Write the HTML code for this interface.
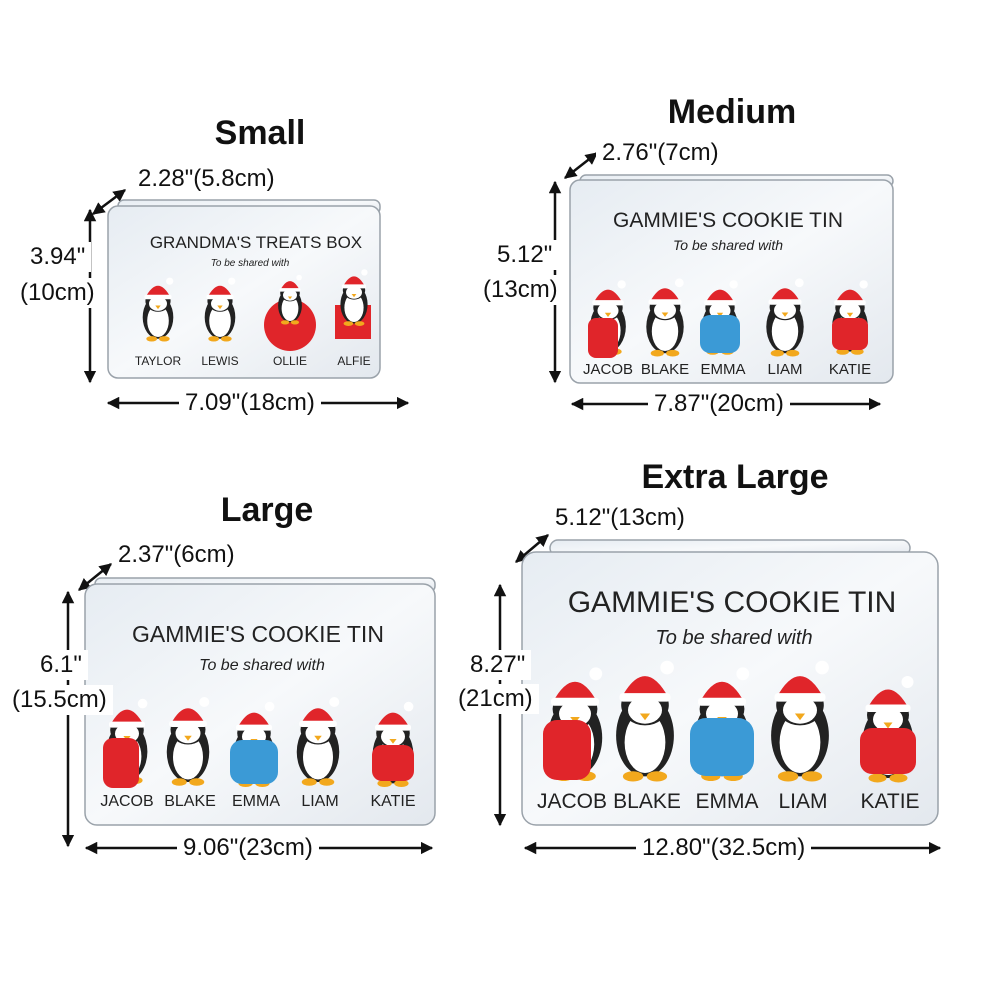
<!DOCTYPE html>
<html><head><meta charset="utf-8"><style>
html,body{margin:0;padding:0;background:#fff}
body{width:1000px;height:1000px;position:relative;overflow:hidden;font-family:"Liberation Sans",sans-serif;color:#111}
.t{position:absolute;font-weight:bold;font-size:34px;transform:translateX(-50%);white-space:nowrap}
.l{position:absolute;font-size:24px;white-space:nowrap;background:#fff;padding:0 6px;line-height:30px}
svg{position:absolute;left:0;top:0}
</style></head><body>
<svg width="1000" height="1000" viewBox="0 0 1000 1000">
<defs>
<linearGradient id="g" x1="0" y1="0" x2="1" y2="1"><stop offset="0" stop-color="#e6ecf2"/><stop offset="0.5" stop-color="#f7f9fb"/><stop offset="1" stop-color="#e3e8ee"/></linearGradient>
<marker id="a" viewBox="0 0 10 10" refX="9" refY="5" markerWidth="5" markerHeight="5" orient="auto-start-reverse"><path d="M0,0L10,5L0,10z" fill="#111"/></marker>
<g id="p">
<ellipse cx="0" cy="8" rx="17" ry="24" fill="#222"/>
<ellipse cx="0" cy="12" rx="12" ry="18" fill="#fff"/>
<ellipse cx="0" cy="-10" rx="14" ry="12" fill="#222"/>
<ellipse cx="0" cy="-7" rx="10" ry="8" fill="#fff"/>
<path d="M-14,-14 Q0,-40 14,-14z" fill="#e0252a"/>
<rect x="-15" y="-17" width="30" height="5" rx="2" fill="#fff"/>
<circle cx="13" cy="-32" r="4" fill="#fff"/>
<path d="M-3,-5L3,-5L0,-1z" fill="#f2a81d"/>
<ellipse cx="-7" cy="32" rx="6" ry="3" fill="#f2a81d"/><ellipse cx="7" cy="32" rx="6" ry="3" fill="#f2a81d"/>
</g>
</defs>
<g stroke="#111" stroke-width="2.5" fill="none" marker-start="url(#a)" marker-end="url(#a)">
<line x1="93" y1="214" x2="125" y2="190"/><line x1="90" y1="210" x2="90" y2="382"/><line x1="108" y1="403" x2="408" y2="403"/>
<line x1="565" y1="178" x2="597" y2="153"/><line x1="555" y1="182" x2="555" y2="382"/><line x1="572" y1="404" x2="880" y2="404"/>
<line x1="79" y1="590" x2="111" y2="564"/><line x1="68" y1="592" x2="68" y2="846"/><line x1="86" y1="848" x2="432" y2="848"/>
<line x1="516" y1="562" x2="548" y2="535"/><line x1="500" y1="585" x2="500" y2="825"/><line x1="525" y1="848" x2="940" y2="848"/>
</g>
<g stroke="#9aa2aa" stroke-width="1.5" fill="url(#g)">
<rect x="118" y="200" width="262" height="14" rx="6"/><rect x="108" y="206" width="272" height="172" rx="10"/>
<rect x="580" y="175" width="313" height="12" rx="6"/><rect x="570" y="180" width="323" height="203" rx="10"/>
<rect x="95" y="578" width="340" height="14" rx="6"/><rect x="85" y="584" width="350" height="241" rx="12"/>
<rect x="550" y="540" width="360" height="16" rx="8"/><rect x="522" y="552" width="416" height="273" rx="14"/>
</g>
<g fill="#222" font-family="Liberation Sans,sans-serif" text-anchor="middle">
<text x="256" y="248" font-size="17">GRANDMA'S TREATS  BOX</text><text x="250" y="266" font-size="10" font-style="italic">To be shared with</text>
<text x="728" y="227" font-size="21">GAMMIE'S COOKIE TIN</text><text x="728" y="250" font-size="14" font-style="italic">To be shared with</text>
<text x="258" y="642" font-size="23">GAMMIE'S COOKIE TIN</text><text x="262" y="670" font-size="16" font-style="italic">To be shared with</text>
<text x="732" y="612" font-size="30">GAMMIE'S COOKIE TIN</text><text x="734" y="644" font-size="20" font-style="italic">To be shared with</text>
<g font-size="12"><text x="158" y="365">TAYLOR</text><text x="220" y="365">LEWIS</text><text x="290" y="365">OLLIE</text><text x="354" y="365">ALFIE</text></g>
<g font-size="15"><text x="608" y="374">JACOB</text><text x="665" y="374">BLAKE</text><text x="723" y="374">EMMA</text><text x="785" y="374">LIAM</text><text x="850" y="374">KATIE</text></g>
<g font-size="16"><text x="127" y="806">JACOB</text><text x="190" y="806">BLAKE</text><text x="256" y="806">EMMA</text><text x="320" y="806">LIAM</text><text x="393" y="806">KATIE</text></g>
<g font-size="21"><text x="572" y="808">JACOB</text><text x="647" y="808">BLAKE</text><text x="727" y="808">EMMA</text><text x="803" y="808">LIAM</text><text x="890" y="808">KATIE</text></g>
</g>
<g transform="translate(158,310) scale(0.9)"><use href="#p"/></g>
<g transform="translate(220,310) scale(0.9)"><use href="#p"/></g>
<circle cx="290" cy="325" r="26" fill="#e0252a"/><g transform="translate(290,300) scale(0.7)"><use href="#p"/></g>
<rect x="335" y="305" width="36" height="34" fill="#e0252a"/><g transform="translate(354,298) scale(0.8)"><use href="#p"/></g>
<g transform="translate(608,318) scale(1.05)"><use href="#p"/></g><rect x="588" y="318" width="30" height="40" rx="8" fill="#e0252a"/>
<g transform="translate(665,318) scale(1.1)"><use href="#p"/></g>
<g transform="translate(720,318) scale(1.05)"><use href="#p"/></g><rect x="700" y="315" width="40" height="38" rx="10" fill="#3b9ad6"/>
<g transform="translate(785,318) scale(1.1)"><use href="#p"/></g>
<g transform="translate(850,318) scale(1.05)"><use href="#p"/></g><rect x="832" y="318" width="36" height="32" rx="8" fill="#e0252a"/>
<g transform="translate(127,742) scale(1.2)"><use href="#p"/></g><rect x="103" y="738" width="36" height="50" rx="10" fill="#e0252a"/>
<g transform="translate(188,742) scale(1.25)"><use href="#p"/></g>
<g transform="translate(254,745) scale(1.2)"><use href="#p"/></g><rect x="230" y="740" width="48" height="44" rx="12" fill="#3b9ad6"/>
<g transform="translate(318,742) scale(1.25)"><use href="#p"/></g>
<g transform="translate(393,745) scale(1.2)"><use href="#p"/></g><rect x="372" y="745" width="42" height="36" rx="10" fill="#e0252a"/>
<g transform="translate(575,725) scale(1.6)"><use href="#p"/></g><rect x="543" y="720" width="48" height="60" rx="14" fill="#e0252a"/>
<g transform="translate(645,722) scale(1.7)"><use href="#p"/></g>
<g transform="translate(722,725) scale(1.6)"><use href="#p"/></g><rect x="690" y="718" width="64" height="58" rx="16" fill="#3b9ad6"/>
<g transform="translate(800,722) scale(1.7)"><use href="#p"/></g>
<g transform="translate(888,730) scale(1.5)"><use href="#p"/></g><rect x="860" y="728" width="56" height="46" rx="12" fill="#e0252a"/>
</svg>
<div class="t" style="left:260px;top:114px">Small</div>
<div class="t" style="left:732px;top:93px">Medium</div>
<div class="t" style="left:267px;top:491px">Large</div>
<div class="t" style="left:735px;top:458px">Extra Large</div>
<div class="l" style="left:132px;top:164px">2.28"(5.8cm)</div>
<div class="l" style="left:24px;top:242px">3.94"</div><div class="l" style="left:14px;top:278px">(10cm)</div>
<div class="l" style="left:179px;top:388px">7.09"(18cm)</div>
<div class="l" style="left:596px;top:138px">2.76"(7cm)</div>
<div class="l" style="left:491px;top:240px">5.12"</div><div class="l" style="left:477px;top:275px">(13cm)</div>
<div class="l" style="left:648px;top:389px">7.87"(20cm)</div>
<div class="l" style="left:112px;top:540px">2.37"(6cm)</div>
<div class="l" style="left:34px;top:650px">6.1"</div><div class="l" style="left:6px;top:685px">(15.5cm)</div>
<div class="l" style="left:177px;top:833px">9.06"(23cm)</div>
<div class="l" style="left:549px;top:503px">5.12"(13cm)</div>
<div class="l" style="left:464px;top:650px">8.27"</div><div class="l" style="left:452px;top:684px">(21cm)</div>
<div class="l" style="left:636px;top:833px">12.80"(32.5cm)</div>
</body></html>
